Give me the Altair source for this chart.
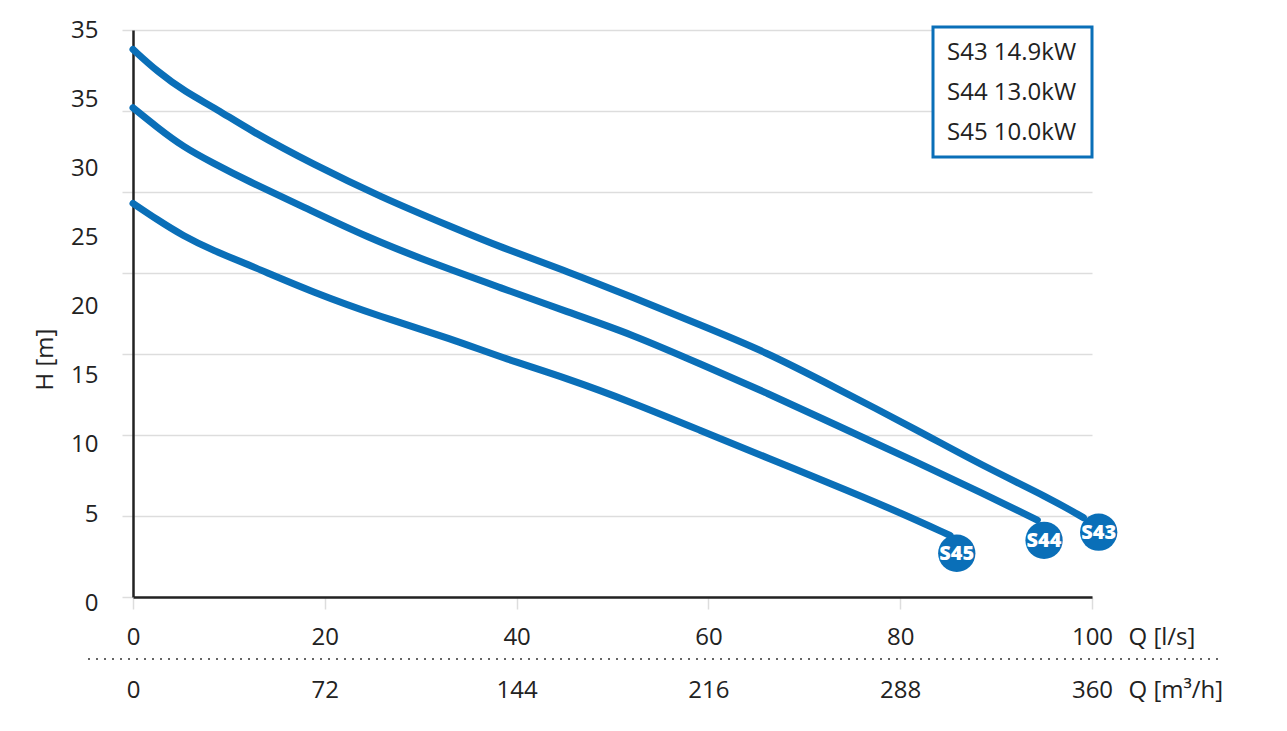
import altair as alt
import pandas as pd

# ---------------- data ----------------
pumps = ["S43", "S44", "S45"]
powers = ["14.9kW", "13.0kW", "10.0kW"]

s43_q = [0, 2.6, 5.4, 8.8, 12.2, 18.8, 25.8, 33.4, 38.3, 45.3, 52.1, 59.1, 66.1, 73.0, 81.8, 88.6, 95.6, 99.1]
s43_h = [33.8, 32.4, 31.2, 30.1, 28.8, 26.7, 24.7, 22.8, 21.6, 20.1, 18.5, 16.8, 15.1, 13.0, 10.3, 8.1, 6.1, 4.9]

s44_q = [0, 2.5, 5.2, 8.3, 11.9, 17.7, 24.4, 31.7, 38.3, 45.3, 52.1, 59.1, 66.1, 73.0, 81.8, 88.6, 94.3]
s44_h = [30.2, 29.0, 27.8, 26.8, 25.7, 24.1, 22.2, 20.5, 19.1, 17.6, 16.2, 14.4, 12.6, 10.7, 8.3, 6.4, 4.75]

s45_q = [0, 2.5, 5.2, 8.3, 12.5, 18.8, 25.8, 33.4, 38.3, 45.3, 52.1, 59.1, 66.1, 74.8, 80.0, 85.2]
s45_h = [24.3, 23.3, 22.3, 21.4, 20.4, 18.8, 17.3, 15.9, 14.8, 13.5, 12.0, 10.3, 8.6, 6.5, 5.2, 3.8]

# end badges
badge_q = [100.7, 95.0, 85.9]
badge_h = [4.0, 3.5, 2.7]

x_ticks_ls = [0, 20, 40, 60, 80, 100]
x_ticks_m3h = [0, 72, 144, 216, 288, 360]
y_grid = [0, 5, 10, 15, 20, 25, 30, 35]
y_label_text = ["0", "5", "10", "15", "20", "25", "30", "35", "35"]
y_label_slots = [0, 5, 10, 15, 20, 25, 30, 35, 40]

BLUE = "#0A6FB8"
FONT = "Open Sans"
FS = 24
TXT = "#222222"
GRID = "#DDDDDD"

rows = []
for name, pw, qs, hs in zip(pumps, powers, [s43_q, s44_q, s45_q], [s43_h, s44_h, s45_h]):
    for i, (q, h) in enumerate(zip(qs, hs)):
        rows.append({"pump": name, "legend": f"{name} {pw}", "Q": q, "H": h, "order": i})
curves = pd.DataFrame(rows)
badges = pd.DataFrame({"pump": pumps, "Q": badge_q, "H": badge_h})

xscale = alt.Scale(domain=[0, 100], nice=False, zero=False)
yscale = alt.Scale(domain=[0, 35], nice=False, zero=False)

xaxis = alt.Axis(
    values=x_ticks_ls, grid=False, domain=True, domainColor=TXT, domainWidth=2.5,
    ticks=True, tickColor=GRID, tickWidth=1.5, tickSize=12, labelFlush=False,
    labelFont=FONT, labelFontSize=FS, labelColor=TXT, labelPadding=16,
    title="Q [l/s]", titleFont=FONT, titleFontSize=FS, titleColor=TXT, titleFontWeight="normal",
    titleX=995, titleY=40, titleAlign="left", titleBaseline="middle", titleAngle=0,
)
yaxis = alt.Axis(
    values=y_grid, grid=True, gridColor=GRID, gridWidth=1.5,
    domain=True, domainColor=TXT, domainWidth=2.5,
    ticks=True, tickColor=GRID, tickWidth=1.5, tickSize=11,
    labelExpr="datum.value == 0 ? '0' : ''",
    labelFont=FONT, labelFontSize=FS, labelColor=TXT, labelPadding=24, labelOffset=6,
    title="H [m]", titleFont=FONT, titleFontSize=FS, titleColor=TXT, titleFontWeight="normal",
    titleX=-88, titleY=329, titleAngle=270, titleAlign="center", titleBaseline="middle",
)

lines = alt.Chart(curves).mark_line(strokeWidth=7, interpolate="basis", strokeCap="round").encode(
    x=alt.X("Q:Q", scale=xscale, axis=xaxis),
    y=alt.Y("H:Q", scale=yscale, axis=yaxis),
    detail="pump:N",
    order="order:Q",
    color=alt.Color(
        "legend:N",
        scale=alt.Scale(domain=[f"{n} {p}" for n, p in zip(pumps, powers)], range=[BLUE] * 3),
        legend=alt.Legend(
            title=None, orient="none", legendX=776, legendY=-3, padding=14,
            labelFont=FONT, labelFontSize=FS, labelColor=TXT, labelLimit=400,
            symbolOpacity=0, symbolSize=0, symbolStrokeWidth=0, labelOffset=0, rowPadding=16,
        ),
    ),
)

legend_box = alt.Chart(pd.DataFrame({"a": [0]})).mark_rect(
    fill="white", stroke=BLUE, strokeWidth=3
).encode(x=alt.value(800), x2=alt.value(959), y=alt.value(-3), y2=alt.value(127))

circles = alt.Chart(badges).mark_circle(size=1390, color=BLUE, opacity=1).encode(
    x=alt.X("Q:Q", scale=xscale), y=alt.Y("H:Q", scale=yscale)
)
labels = alt.Chart(badges).mark_text(
    font=FONT, fontWeight=800, fontSize=20, color="white", baseline="middle", align="center", dy=1
).encode(x=alt.X("Q:Q", scale=xscale), y=alt.Y("H:Q", scale=yscale), text="pump:N")

separator = alt.Chart(pd.DataFrame({"a": [0]})).mark_rule(
    color="#333333", strokeWidth=1.5, strokeDash=[2, 6]
).encode(x=alt.value(-45), x2=alt.value(1085), y=alt.value(629))

base = alt.layer(legend_box, lines, circles, labels, separator)

# second x axis in m3/h
xlayer = alt.Chart(pd.DataFrame({"m3h": x_ticks_m3h})).mark_point(opacity=0).encode(
    x=alt.X("m3h:Q", scale=alt.Scale(domain=[0, 360], nice=False, zero=False),
            axis=alt.Axis(values=x_ticks_m3h, orient="bottom", offset=53, grid=False,
                          domain=False, ticks=False, tickSize=0, labelFlush=False,
                          labelFont=FONT, labelFontSize=FS, labelColor=TXT, labelPadding=28,
                          title="Q [m³/h]", titleFont=FONT, titleFontSize=FS, titleColor=TXT,
                          titleFontWeight="normal", titleX=995, titleY=40, titleAlign="left",
                          titleBaseline="middle", titleAngle=0)),
    y=alt.value(0),
)

# y tick labels as printed in the reference
label_array = "[" + ",".join(f"'{t}'" for t in y_label_text) + "]"
ylayer = alt.Chart(pd.DataFrame({"slot": y_label_slots[1:]})).mark_point(opacity=0).encode(
    y=alt.Y("slot:Q", scale=alt.Scale(domain=[-1, 40], nice=False, zero=False),
            axis=alt.Axis(values=y_label_slots[1:], orient="left", grid=False, domain=False,
                          ticks=False, tickSize=0,
                          labelExpr=f"{label_array}[round(datum.value / 5)]",
                          labelFont=FONT, labelFontSize=FS, labelColor=TXT, labelPadding=35,
                          title=None)),
    x=alt.value(0),
)

chart = alt.layer(base, xlayer, ylayer).resolve_scale(x="independent", y="independent").properties(
    width=959, height=567,
    autosize=alt.AutoSizeParams(type="none"),
    padding={"left": 125, "top": 22, "right": 180, "bottom": 120},
).configure(background="white").configure_view(stroke="transparent", strokeWidth=0)

chart.save("out.html", embed_options={"renderer": "svg", "actions": False})
